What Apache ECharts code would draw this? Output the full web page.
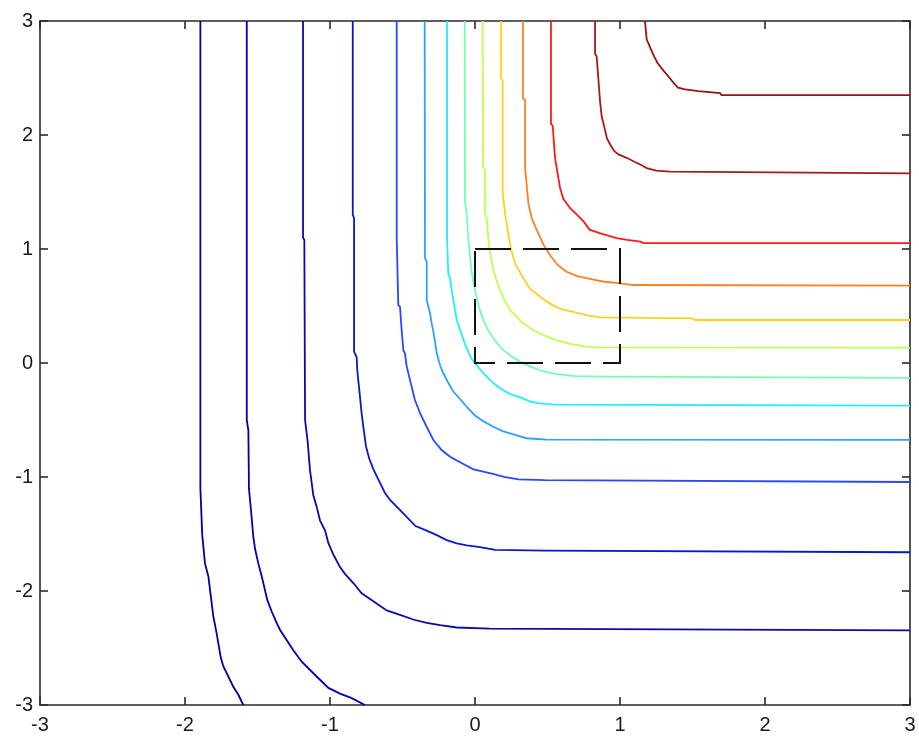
<!DOCTYPE html>
<html>
<head>
<meta charset="utf-8">
<script src="https://cdn.jsdelivr.net/npm/echarts@6/dist/echarts.min.js"></script>
<style>
html,body{margin:0;padding:0;background:#fff;}
#chart{width:919px;height:738px;}
</style>
</head>
<body>
<div id="chart"></div>
<script>
// Axis ranges / ticks
var axisMin = -3, axisMax = 3, tickStep = 1;

// Contour lines, [x, y] pairs (left/lowest level first)
var contour1 = [[-1.894,3],[-1.894,-1.10],[-1.881,-1.51],[-1.862,-1.76],[-1.839,-1.87],[-1.805,-2.22],[-1.782,-2.37],[-1.754,-2.58],[-1.736,-2.66],[-1.667,-2.84],[-1.632,-2.91],[-1.598,-3]];
var contour2 = [[-1.574,3],[-1.574,-0.50],[-1.563,-0.59],[-1.559,-1.10],[-1.545,-1.29],[-1.529,-1.52],[-1.517,-1.63],[-1.494,-1.76],[-1.471,-1.87],[-1.432,-2.08],[-1.402,-2.18],[-1.368,-2.28],[-1.345,-2.34],[-1.299,-2.43],[-1.253,-2.52],[-1.195,-2.62],[-1.092,-2.75],[-1.011,-2.85],[-0.931,-2.90],[-0.850,-2.94],[-0.759,-3]];
var contour3 = [[-1.186,3],[-1.186,1.10],[-1.177,1.08],[-1.172,-0.50],[-1.154,-0.69],[-1.138,-0.94],[-1.115,-1.16],[-1.092,-1.26],[-1.069,-1.38],[-1.034,-1.47],[-1.011,-1.58],[-0.977,-1.68],[-0.931,-1.79],[-0.897,-1.85],[-0.839,-1.93],[-0.782,-2.02],[-0.701,-2.09],[-0.609,-2.17],[-0.517,-2.21],[-0.426,-2.25],[-0.333,-2.28],[-0.241,-2.30],[-0.126,-2.32],[0.10,-2.33],[0.11,-2.345],[3,-2.345]];
var contour4 = [[-0.843,3],[-0.843,1.30],[-0.834,1.27],[-0.834,0.10],[-0.816,0.05],[-0.812,-0.06],[-0.805,-0.15],[-0.793,-0.30],[-0.782,-0.44],[-0.770,-0.56],[-0.752,-0.73],[-0.729,-0.84],[-0.701,-0.93],[-0.667,-1.02],[-0.621,-1.14],[-0.586,-1.20],[-0.510,-1.30],[-0.410,-1.43],[-0.333,-1.47],[-0.264,-1.51],[-0.195,-1.553],[-0.126,-1.582],[-0.057,-1.60],[0.034,-1.615],[0.14,-1.64],[0.483,-1.646],[0.494,-1.66],[3,-1.66]];
var contour5 = [[-0.540,3],[-0.540,1.094],[-0.529,1.08],[-0.529,0.51],[-0.517,0.49],[-0.506,0.29],[-0.494,0.11],[-0.483,0.085],[-0.471,-0.03],[-0.448,-0.15],[-0.425,-0.27],[-0.414,-0.325],[-0.379,-0.44],[-0.333,-0.56],[-0.287,-0.675],[-0.230,-0.763],[-0.172,-0.822],[-0.090,-0.88],[-0.011,-0.933],[0.057,-0.953],[0.13,-0.975],[0.20,-0.998],[0.30,-1.02],[0.483,-1.028],[0.494,-1.044],[3,-1.044]];
var contour6 = [[-0.347,3],[-0.345,0.92],[-0.333,0.89],[-0.333,0.55],[-0.322,0.54],[-0.310,0.436],[-0.299,0.35],[-0.287,0.275],[-0.276,0.187],[-0.264,0.085],[-0.241,-0.02],[-0.218,-0.09],[-0.190,-0.16],[-0.150,-0.25],[-0.100,-0.32],[-0.060,-0.38],[0,-0.46],[0.057,-0.51],[0.126,-0.559],[0.195,-0.60],[0.287,-0.635],[0.356,-0.66],[0.494,-0.672],[0.50,-0.675],[3,-0.675]];
var contour7 = [[-0.193,3],[-0.193,1.094],[-0.184,1.08],[-0.184,0.78],[-0.172,0.743],[-0.161,0.64],[-0.145,0.52],[-0.126,0.38],[-0.100,0.28],[-0.070,0.17],[-0.040,0.08],[-0.020,0.03],[0.011,-0.018],[0.057,-0.09],[0.115,-0.164],[0.172,-0.222],[0.241,-0.272],[0.310,-0.30],[0.379,-0.339],[0.448,-0.354],[0.540,-0.366],[0.552,-0.374],[3,-0.374]];
var contour8 = [[-0.071,3],[-0.069,1.42],[-0.057,1.30],[-0.046,1.09],[-0.034,0.93],[-0.023,0.80],[-0.011,0.71],[0.011,0.58],[0.030,0.48],[0.060,0.37],[0.090,0.29],[0.130,0.21],[0.180,0.13],[0.240,0.07],[0.310,0.01],[0.380,-0.03],[0.460,-0.07],[0.550,-0.095],[0.690,-0.115],[0.900,-0.12],[0.910,-0.13],[3,-0.13]];
var contour9 = [[0.053,3],[0.055,1.72],[0.069,1.69],[0.069,1.31],[0.080,1.28],[0.092,1.09],[0.103,0.98],[0.126,0.82],[0.150,0.72],[0.172,0.64],[0.207,0.54],[0.245,0.46],[0.290,0.40],[0.330,0.35],[0.400,0.29],[0.480,0.24],[0.560,0.20],[0.650,0.17],[0.750,0.145],[0.850,0.137],[3,0.134]];
var contour10 = [[0.179,3],[0.179,2.50],[0.191,2.48],[0.191,1.50],[0.207,1.31],[0.230,1.13],[0.250,0.99],[0.280,0.86],[0.300,0.82],[0.330,0.75],[0.380,0.65],[0.460,0.57],[0.530,0.51],[0.600,0.47],[0.670,0.45],[0.770,0.42],[0.860,0.40],[1.500,0.392],[1.517,0.377],[3,0.377]];
var contour11 = [[0.331,3],[0.331,2.32],[0.345,2.31],[0.345,1.72],[0.368,1.40],[0.391,1.27],[0.425,1.17],[0.471,1.04],[0.520,0.94],[0.570,0.86],[0.630,0.80],[0.710,0.76],[0.800,0.735],[0.880,0.715],[0.990,0.70],[1.090,0.684],[3,0.678]];
var contour12 = [[0.524,3],[0.524,2.10],[0.536,2.08],[0.552,1.80],[0.570,1.66],[0.586,1.54],[0.609,1.44],[0.655,1.36],[0.720,1.28],[0.750,1.24],[0.790,1.17],[0.870,1.135],[0.977,1.095],[1.050,1.08],[1.140,1.065],[1.160,1.052],[3,1.052]];
var contour13 = [[0.828,3],[0.828,2.71],[0.839,2.69],[0.851,2.49],[0.862,2.30],[0.874,2.16],[0.890,2.08],[0.910,1.97],[0.935,1.91],[0.960,1.86],[0.989,1.83],[1.046,1.80],[1.100,1.765],[1.150,1.735],[1.184,1.71],[1.250,1.687],[1.345,1.678],[1.356,1.664],[3,1.664]];
var contour14 = [[1.172,3],[1.184,2.84],[1.207,2.77],[1.235,2.69],[1.260,2.63],[1.300,2.565],[1.333,2.515],[1.368,2.46],[1.400,2.415],[1.450,2.40],[1.540,2.385],[1.550,2.37],[1.690,2.368],[1.700,2.35],[3,2.35]];

// Dashed rectangle corners (drawn as one closed path)
var boxPath = [[0,1],[1,1],[1,0],[0,0],[0,1]];

var contours = [contour1,contour2,contour3,contour4,contour5,contour6,contour7,contour8,contour9,contour10,contour11,contour12,contour13,contour14];
var contourColors = ['#0000a0','#0000b0','#0a0aaa','#0c18c8','#2848ff','#2ea0ff','#20eeff','#74ffb0','#c0ff50','#ffd020','#ff8020','#ff1a1a','#a81a1a','#941616'];

var chart = echarts.init(document.getElementById('chart'), null, {renderer:'canvas'});

var series = contours.map(function(d, i){
  return {
    type:'line', data:d, showSymbol:false, symbol:'none', silent:true,
    lineStyle:{color:contourColors[i], width:1.8, cap:'butt', join:'miter'},
    z:2, clip:true
  };
});
series.push({
  type:'line', data:boxPath, showSymbol:false, symbol:'none', silent:true,
  lineStyle:{color:'#111', width:2, type:[36,12], dashOffset:0, cap:'butt', join:'miter'},
  z:3
});

var axisFont = {fontFamily:'Liberation Sans, Arial, sans-serif', fontSize:20, color:'#1a1a1a'};
function baseAxis(pos, showLabel, margin){
  return {
    type:'value', position:pos, min:axisMin, max:axisMax, interval:tickStep,
    axisLine:{show:true, onZero:false, lineStyle:{color:'#2a2a2a', width:1.6}},
    axisTick:{show:true, inside:true, length:8, lineStyle:{color:'#2a2a2a', width:1.6}},
    axisLabel:Object.assign({show:showLabel, margin:margin}, axisFont),
    splitLine:{show:false}
  };
}

chart.setOption({
  animation:false,
  backgroundColor:'#ffffff',
  grid:{left:40, top:21, width:870, height:684, containLabel:false},
  xAxis:[baseAxis('bottom', true, 10), baseAxis('top', false, 8)],
  yAxis:[baseAxis('left', true, 7), baseAxis('right', false, 8)],
  series:series
});
</script>
</body>
</html>
